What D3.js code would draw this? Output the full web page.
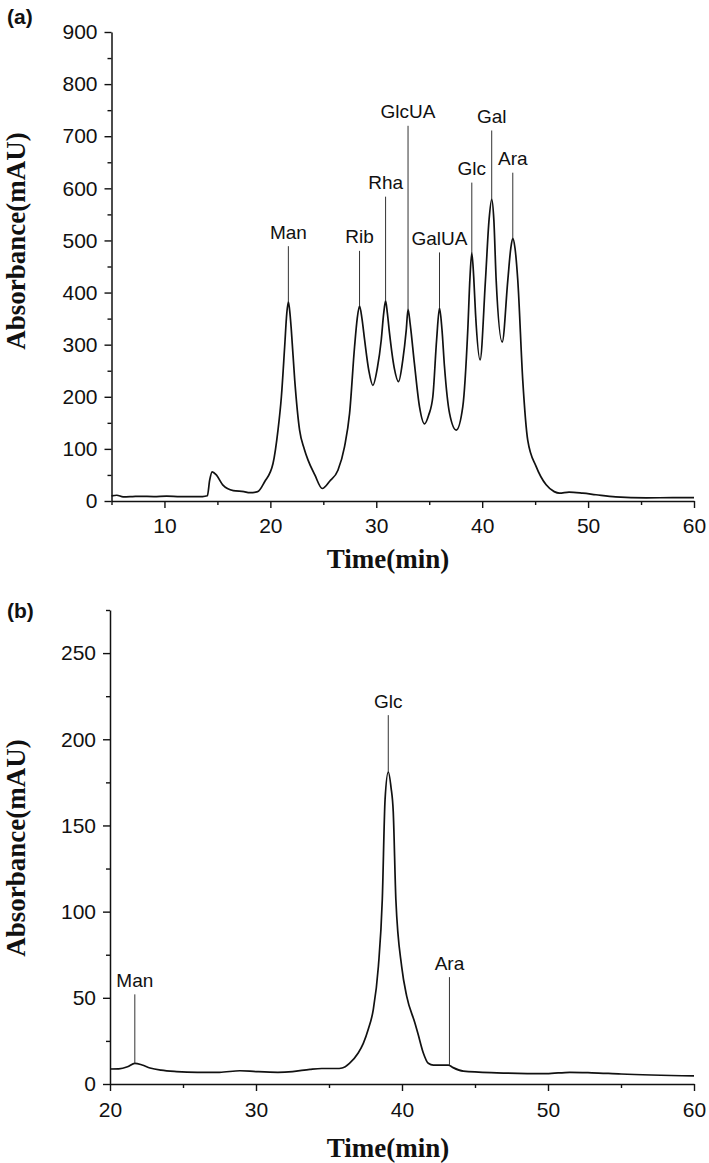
<!DOCTYPE html>
<html>
<head>
<meta charset="utf-8">
<script src="https://cdn.jsdelivr.net/npm/d3@7"></script>
<style>
  html, body { margin: 0; padding: 0; background: #fff; }
  svg { display: block; }
</style>
</head>
<body>
<svg id="chart" width="709" height="1163"></svg>
<script>
// ---------- DATA ----------
// Panel (a): standard monosaccharide mixture
const timeA = [5.0, 5.5, 6.1, 7.0, 7.7, 9.0, 10.2, 11.5, 13.6, 14.05, 14.27, 14.5, 14.9, 15.5, 16.5, 17.5, 18.05, 18.8,
  19.46, 20.25, 20.72, 21.04, 21.35, 21.55, 21.7, 21.85, 21.98, 22.3, 22.76, 23.2, 23.55, 24.2, 24.9, 25.6, 26.38,
  27.0, 27.48, 27.95, 28.2, 28.42, 28.65, 28.9, 29.3, 29.68, 30.1, 30.47, 30.7, 30.88, 31.05, 31.25, 31.7, 32.1,
  32.5, 32.83, 33.0, 33.2, 33.6, 34.08, 34.56, 34.95, 35.34, 35.7, 35.97, 36.2, 36.44, 36.92, 37.55, 38.17, 38.64,
  38.85, 39.02, 39.2, 39.37, 39.8, 40.31, 40.65, 40.9, 41.1, 41.32, 41.89, 42.42, 42.7, 42.89, 43.1, 43.36, 43.83,
  44.3, 45.1, 46.04, 46.8, 47.3, 48.2, 49.5, 50.75, 52.6, 55.5, 58.0, 60.0];
const absA = [10, 11, 8, 8.5, 9, 8.5, 9.5, 8.5, 8.5, 10, 40, 56, 50, 31, 20, 18, 16, 18,
  37, 72, 136, 200, 296, 360, 382, 360, 328, 232, 136, 100, 79, 50, 24, 38, 59,
  104, 168, 296, 350, 374, 350, 309, 250, 222, 255, 309, 360, 384, 360, 322, 255, 229,
  270, 328, 368, 340, 264, 181, 148, 165, 200, 310, 370, 330, 258, 168, 136, 181, 328,
  430, 476, 430, 360, 271, 424, 540, 579, 540, 424, 305, 424, 485, 504, 485, 424, 232,
  117, 66, 31, 18, 15, 17, 15, 12, 8, 6, 6.5, 6.5];
const peakNamesA = ["Man", "Rib", "Rha", "GlcUA", "GalUA", "Glc", "Gal", "Ara"];
const peakTimesA = [21.7, 28.42, 30.88, 33.0, 35.97, 39.02, 40.9, 42.89];
const peakValsA  = [382, 374, 384, 368, 370, 476, 579, 504];
const peakTopsA  = [489, 480, 584, 720, 477, 611, 711, 630];
const xTicksA = [10, 20, 30, 40, 50, 60];
const xMinorA = [5, 15, 25, 35, 45, 55];
const yTicksA = [0, 100, 200, 300, 400, 500, 600, 700, 800, 900];
const yMinorA = [50, 150, 250, 350, 450, 550, 650, 750, 850];

// Panel (b): sample
const timeB = [20, 20.6, 21.2, 21.7, 22.2, 22.74, 23.5, 24.56, 26, 27.5, 28.9, 30, 31.5, 32.5, 33.7, 34.5, 35.5, 35.9,
  36.4, 37.0, 37.35, 37.7, 38.03, 38.38, 38.65, 38.84, 39.06, 39.25, 39.4, 39.58, 39.98, 40.32, 40.9, 41.1, 41.46,
  41.8, 42.15, 43.18, 43.5, 44.2, 46.5, 49.9, 51.5, 53, 55, 60];
const absB = [8.7, 8.8, 10, 12, 11, 9.3, 8, 7.2, 6.8, 6.8, 7.7, 7.2, 6.8, 7.2, 8.5, 9, 9, 9.3,
  12, 18, 23.6, 32, 43, 68, 107, 165, 181, 172, 158, 107, 68, 51, 35, 29, 18,
  12, 11, 11, 9.5, 7.5, 6.5, 6, 6.8, 6.5, 5.8, 4.7];
const peakNamesB = ["Man", "Glc", "Ara"];
const peakTimesB = [21.7, 39.06, 43.25];
const peakValsB  = [12, 181, 11];
const peakTopsB  = [52, 214, 62];
const xTicksB = [20, 30, 40, 50, 60];
const xMinorB = [25, 35, 45, 55];
const yTicksB = [0, 50, 100, 150, 200, 250];
const yMinorB = [25, 75, 125, 175, 225, 275];

const xTitle = "Time(min)";
const yTitle = "Absorbance(mAU)";

// ---------- DRAW ----------
const svg = d3.select("#chart");
const SANS = "'Liberation Sans', Arial, Helvetica, sans-serif";
const SERIF = "'Liberation Serif', 'Times New Roman', serif";

function panel(opt) {
  const g = svg.append("g");
  const x = d3.scaleLinear().domain(opt.xDomain).range([opt.left, opt.right]);
  const y = d3.scaleLinear().domain(opt.yDomain).range([opt.bottom, opt.top]);

  // minor ticks
  g.append("g").attr("transform", `translate(0,${opt.bottom})`)
    .call(d3.axisBottom(x).tickValues(opt.xMinor).tickSize(4).tickSizeOuter(0).tickFormat(""))
    .call(s => s.select(".domain").remove());
  g.append("g").attr("transform", `translate(${opt.left},0)`)
    .call(d3.axisLeft(y).tickValues(opt.yMinor).tickSize(4).tickSizeOuter(0).tickFormat(""))
    .call(s => s.select(".domain").remove());

  // major axes
  const gx = g.append("g").attr("transform", `translate(0,${opt.bottom})`)
    .call(d3.axisBottom(x).tickValues(opt.xTicks).tickSize(7).tickSizeOuter(0).tickPadding(opt.xPad).tickFormat(d3.format("d")));
  const gy = g.append("g").attr("transform", `translate(${opt.left},0)`)
    .call(d3.axisLeft(y).tickValues(opt.yTicks).tickSize(7).tickSizeOuter(0).tickPadding(7).tickFormat(d3.format("d")));

  g.selectAll(".tick line").attr("stroke", "#111").attr("stroke-width", 1.4);
  g.selectAll(".domain").attr("stroke", "#111").attr("stroke-width", 1.5);
  [gx, gy].forEach(a => a.selectAll("text")
    .attr("font-family", SANS).attr("font-size", 21).attr("fill", "#111"));

  // curve
  const line = d3.line().x((d, i) => x(opt.t[i])).y((d, i) => y(opt.v[i])).curve(d3.curveMonotoneX);
  g.append("path").datum(opt.v).attr("d", line)
    .attr("fill", "none").attr("stroke", "#111").attr("stroke-width", 1.7)
    .attr("stroke-linejoin", "round");

  // peak labels
  opt.names.forEach((n, i) => {
    const px = x(opt.pt[i]);
    g.append("line")
      .attr("x1", px).attr("x2", px)
      .attr("y1", y(opt.pv[i])).attr("y2", y(opt.ptop[i]))
      .attr("stroke", "#333").attr("stroke-width", 1);
    g.append("text")
      .attr("x", px).attr("y", y(opt.ptop[i]) - 7.5)
      .attr("text-anchor", "middle")
      .attr("font-family", SANS).attr("font-size", 19).attr("fill", "#111")
      .text(n);
  });

  // axis titles
  g.append("text")
    .attr("x", opt.xTitleX).attr("y", opt.xTitleY)
    .attr("text-anchor", "middle")
    .attr("font-family", SERIF).attr("font-weight", "bold").attr("font-size", 27).attr("fill", "#111")
    .text(xTitle);
  g.append("text")
    .attr("transform", `translate(25,${opt.yTitleY}) rotate(-90)`)
    .attr("text-anchor", "middle")
    .attr("font-family", SERIF).attr("font-weight", "bold").attr("font-size", 27).attr("fill", "#111")
    .text(yTitle);

  // panel letter
  g.append("text")
    .attr("x", 7).attr("y", opt.letterY)
    .attr("font-family", SANS).attr("font-weight", "bold").attr("font-size", 21).attr("fill", "#111")
    .text(opt.letter);
}

panel({
  xDomain: [5, 60], yDomain: [0, 900],
  left: 111.5, right: 694, top: 32, bottom: 501,
  xTicks: xTicksA, xMinor: xMinorA, yTicks: yTicksA, yMinor: yMinorA, xPad: 10,
  t: timeA, v: absA,
  names: peakNamesA, pt: peakTimesA, pv: peakValsA, ptop: peakTopsA,
  xTitleX: 388, xTitleY: 568, yTitleY: 241, letter: "(a)", letterY: 24
});

panel({
  xDomain: [20, 60], yDomain: [0, 275],
  left: 110, right: 694, top: 610, bottom: 1084,
  xTicks: xTicksB, xMinor: xMinorB, yTicks: yTicksB, yMinor: yMinorB, xPad: 11,
  t: timeB, v: absB,
  names: peakNamesB, pt: peakTimesB, pv: peakValsB, ptop: peakTopsB,
  xTitleX: 388, xTitleY: 1157, yTitleY: 848, letter: "(b)", letterY: 618
});
</script>
</body>
</html>
